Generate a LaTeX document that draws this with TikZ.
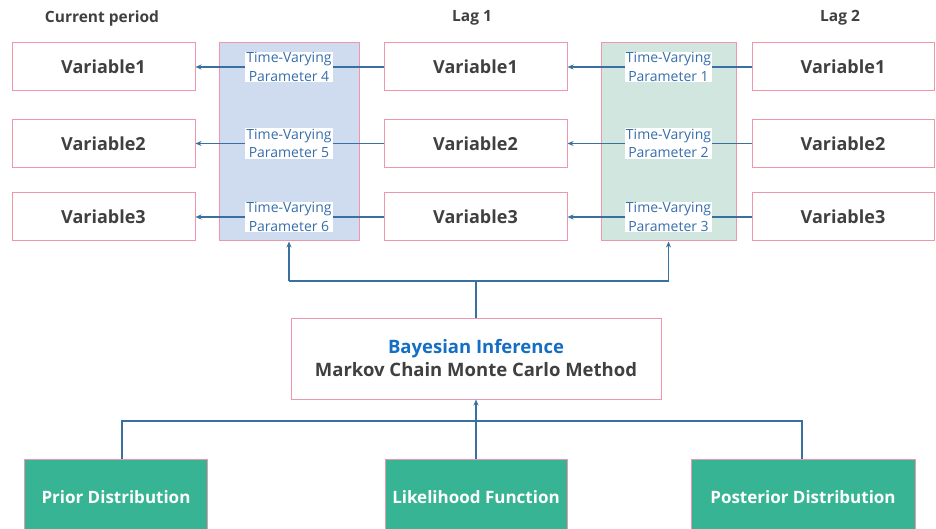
\documentclass[tikz,border=0pt]{standalone}
\usepackage{fontspec}
\setmainfont{Open Sans}
\usetikzlibrary{arrows.meta}
\definecolor{pinkb}{RGB}{240,150,170}
\definecolor{arrowc}{RGB}{58,112,160}
\definecolor{txt}{RGB}{64,64,64}
\definecolor{bluep}{RGB}{207,220,239}
\definecolor{greenp}{RGB}{208,230,222}
\definecolor{greenb}{RGB}{54,180,148}
\definecolor{bayes}{RGB}{20,110,195}
\definecolor{paramc}{RGB}{55,110,170}
\tikzset{
  varbox/.style={draw=pinkb, line width=1pt, fill=white, minimum width=183pt, minimum height=48pt, inner sep=0pt, font=\fontsize{18}{21}\selectfont\bfseries, text=txt},
  panel/.style={draw=pinkb, line width=1pt, minimum height=198pt, inner sep=0pt},
  param/.style={fill=white, inner sep=1pt, align=center, font=\fontsize{14}{18.5}\selectfont, text=paramc},
  head/.style={font=\fontsize{15.5}{18}\selectfont\bfseries, text=txt},
  conn/.style={draw=arrowc, line width=1.5pt},
  arr/.style={conn, -{Stealth[length=6pt,width=5pt]}},
  bottombox/.style={draw=pinkb, line width=1pt, fill=greenb, minimum height=76pt, inner sep=0pt, text=white, font=\fontsize{17}{20}\selectfont\bfseries},
}
\begin{document}
\begin{tikzpicture}[x=1pt,y=-1pt]
\useasboundingbox (0,0) rectangle (936,529);
\clip (0,0) rectangle (936,529);
% headings
\node[head] (h0) at (102,18) {Current period};
\node[head] (h1) at (472,18) {Lag 1};
\node[head] (h2) at (840,18) {Lag 2};
% panels
\node[panel, fill=bluep, minimum width=140pt] (pb) at (289,142) {};
\node[panel, fill=greenp, minimum width=135pt] (pg) at (668.5,142) {};
% variable boxes
\foreach \r/\y in {1/67,2/143.5,3/217}{
  \node[varbox] (L\r) at (103.5,\y) {Variable\r};
  \node[varbox] (M\r) at (475.5,\y) {Variable\r};
  \node[varbox, minimum width=182pt] (R\r) at (843,\y) {Variable\r};
}
% arrows
\foreach \r in {1,2,3}{
  \draw[arr] (M\r.west) -- (L\r.east);
  \draw[arr] (R\r.west) -- (M\r.east);
}
% parameter labels
\node[param] (p4) at (289,67) {Time-Varying\\Parameter 4};
\node[param] (p5) at (289,143.5) {Time-Varying\\Parameter 5};
\node[param] (p6) at (289,217) {Time-Varying\\Parameter 6};
\node[param] (p1) at (668.5,67) {Time-Varying\\Parameter 1};
\node[param] (p2) at (668.5,143.5) {Time-Varying\\Parameter 2};
\node[param] (p3) at (668.5,217) {Time-Varying\\Parameter 3};
% Bayesian box
\node[draw=pinkb, line width=1pt, fill=white, minimum width=370pt, minimum height=81pt, align=center, inner sep=0pt,
  font=\fontsize{18.5}{23}\selectfont\bfseries, text=txt] (bay) at (476,358.5)
  {\textcolor{bayes}{Bayesian Inference}\\Markov Chain Monte Carlo Method};
% bracket to panels
\coordinate (bj) at (476,281);
\coordinate (bl) at (pb.south |- bj);
\coordinate (br) at (pg.south |- bj);
\draw[conn] (bay.north) -- (bj);
\draw[conn] (bl) -- (br);
\draw[arr] (bl) -- (pb.south);
\draw[arr] (br) -- (pg.south);
% bottom boxes
\node[bottombox, minimum width=183pt] (prior) at (116,497) {Prior Distribution};
\node[bottombox, minimum width=182pt] (lik) at (476,497) {Likelihood Function};
\node[bottombox, minimum width=224pt] (post) at (803,497) {Posterior Distribution};
\coordinate (tj) at (476,421);
\coordinate (tl) at (122,421);
\coordinate (tr) at (802,421);
\draw[conn] (prior.north -| tl) -- (tl) -- (tr) -- (post.north -| tr);
\draw[arr] (lik.north) -- (bay.south);
\end{tikzpicture}
\end{document}
